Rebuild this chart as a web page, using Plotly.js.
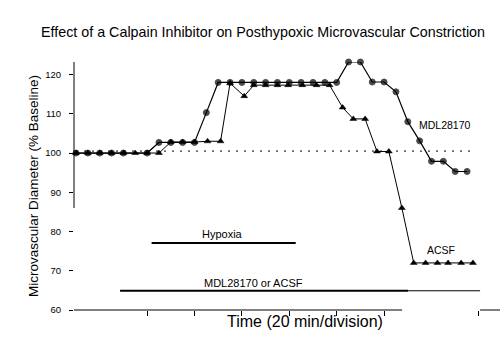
<!DOCTYPE html>
<html>
<head>
<meta charset="utf-8">
<script src="https://cdn.plot.ly/plotly-3.0.1.min.js"></script>
<style>html,body{margin:0;padding:0;background:#fff;}#chart{width:500px;height:356px;}</style>
</head>
<body>
<div id="chart"></div>
<script>
// Time in minutes (20 min per axis division), values in % of baseline
const mdlTime = [0,5,10,15,20,25,30,35,40,45,50,55,60,65,70,75,80,85,90,95,100,105,110,115,120,125,130,135,140,145,150,155,160,165];
const mdlDiameter = [100,100,100,100,100,100,100,102.7,102.7,102.7,102.7,110.3,118,118,118,118,118,118,118,118,118,118,118,123.2,123.2,118.1,118.1,115.6,108,103.1,97.9,97.9,95.3,95.3];
const acsfTime = [0,5,10,15,20,25,30,35,40,45,50,55.5,61,65,71,75,80,85,89.5,95.5,101.5,107,112.5,117,122,127,132,137.5,142.5,147.5,152.5,157,162.5,167.5];
const acsfDiameter = [100,100,100,100,100,100,100,100,102.8,102.8,102.8,103,103,117.8,114.5,117.3,117.3,117.3,117.3,117.3,117.3,117.3,111.6,108.7,108.7,100.4,100.4,86,72,72,72,72,72,72];
const baselineValue = 100.5;
const baselineTime = [0, 168];
const hypoxiaTime = [31.9, 92.7];
const hypoxiaLevel = 77.1;
const drugTime = [18.6, 140.1];
const drugTailTime = [140.1, 170.5];
const drugLevel = 64.9;
const yTicks = [60,70,80,90,100,110,120];
const xTicks = [30,50,70,90,110,130,170];
const seriesLabels = ["MDL28170", "ACSF"];
const barLabels = ["Hypoxia", "MDL28170 or ACSF"];
const chartTitle = "Effect of a Calpain Inhibitor on Posthypoxic Microvascular Constriction";
const xTitle = "Time (20 min/division)";
const yTitle = "Microvascular Diameter (% Baseline)";

const FONT = "Liberation Sans, Arial, Helvetica, sans-serif";
const mdlSizes = mdlTime.map((t, i) => (t === 25 ? 0 : 6));

const traces = [
  {x: baselineTime, y: [baselineValue, baselineValue], mode: "lines", line: {color: "#000", width: 1, dash: "2px,6px"}, hoverinfo: "skip", showlegend: false},
  {x: hypoxiaTime, y: [hypoxiaLevel, hypoxiaLevel], mode: "lines", line: {color: "#000", width: 2}, hoverinfo: "skip", showlegend: false},
  {x: drugTime, y: [drugLevel, drugLevel], mode: "lines", line: {color: "#000", width: 2}, hoverinfo: "skip", showlegend: false},
  {x: drugTailTime, y: [drugLevel, drugLevel], mode: "lines", line: {color: "#000", width: 1}, hoverinfo: "skip", showlegend: false},
  {x: mdlTime, y: mdlDiameter, name: seriesLabels[0], mode: "lines+markers", cliponaxis: false, line: {color: "#000", width: 1.2}, marker: {symbol: "circle", size: mdlSizes, color: "#000", line: {color: "#000", width: 1}}, showlegend: false},
  {x: acsfTime, y: acsfDiameter, name: seriesLabels[1], mode: "lines+markers", cliponaxis: false, line: {color: "#000", width: 1}, marker: {symbol: "triangle-up", size: 6, color: "#000", line: {color: "#000", width: 0.5}}, showlegend: false}
];

const layout = {
  width: 500, height: 356,
  margin: {l: 74, r: 0, t: 62, b: 46},
  paper_bgcolor: "#fff", plot_bgcolor: "#fff",
  font: {family: FONT, color: "#000"},
  showlegend: false,
  title: {text: chartTitle, font: {family: FONT, size: 14.3, color: "#000"}, xref: "container", yref: "container", x: 0.526, y: 0.911, xanchor: "center", yanchor: "middle"},
  xaxis: {range: [-0.84, 178.9], showgrid: false, zeroline: false, showline: false, tickvals: xTicks, ticks: "outside", ticklen: 5, tickcolor: "#000", tickwidth: 1, showticklabels: false, fixedrange: true},
  yaxis: {range: [60, 123.2], showgrid: false, zeroline: false, showline: false, tickvals: yTicks, ticktext: yTicks.map(String), ticks: "outside", ticklen: 4, tickcolor: "#000", tickwidth: 1, ticklabelstandoff: 6, tickfont: {family: FONT, size: 9.5, color: "#000"}, title: {text: yTitle, font: {family: FONT, size: 13.5, color: "#000"}, standoff: 3}, fixedrange: true},
  shapes: [
    {type: "line", xref: "paper", yref: "y", x0: 0, x1: 0, y0: 86, y1: 123.2, line: {color: "#000", width: 1}},
    {type: "line", xref: "paper", yref: "paper", x0: 0, x1: (137.6 + 0.84) / 179.74, y0: 0, y1: 0, line: {color: "#000", width: 1}},
    {type: "line", xref: "x", yref: "paper", x0: 170.5, x1: 178.9, y0: 0, y1: 0, line: {color: "#000", width: 1}}
  ],
  annotations: [
    {text: seriesLabels[0], x: 155.7, y: 107.2, xref: "x", yref: "y", showarrow: false, font: {family: FONT, size: 10.5, color: "#000"}},
    {text: seriesLabels[1], x: 154, y: 75.4, xref: "x", yref: "y", showarrow: false, font: {family: FONT, size: 10.5, color: "#000"}},
    {text: barLabels[0], x: 62, y: 79.4, xref: "x", yref: "y", showarrow: false, font: {family: FONT, size: 11, color: "#000"}},
    {text: barLabels[1], x: 74.7, y: 67, xref: "x", yref: "y", showarrow: false, font: {family: FONT, size: 11, color: "#000"}},
    {text: xTitle, x: 0, y: 0, xref: "x", yref: "paper", showarrow: false, font: {family: FONT, size: 16, color: "#000"}}
  ]
};
// place x-title by pixel: convert to data/paper coordinates
layout.annotations[4].x = (305 - 76) / 2.37;
layout.annotations[4].y = (310 - 332) / 248;

Plotly.newPlot("chart", traces, layout, {displayModeBar: false, staticPlot: true});
</script>
</body>
</html>
